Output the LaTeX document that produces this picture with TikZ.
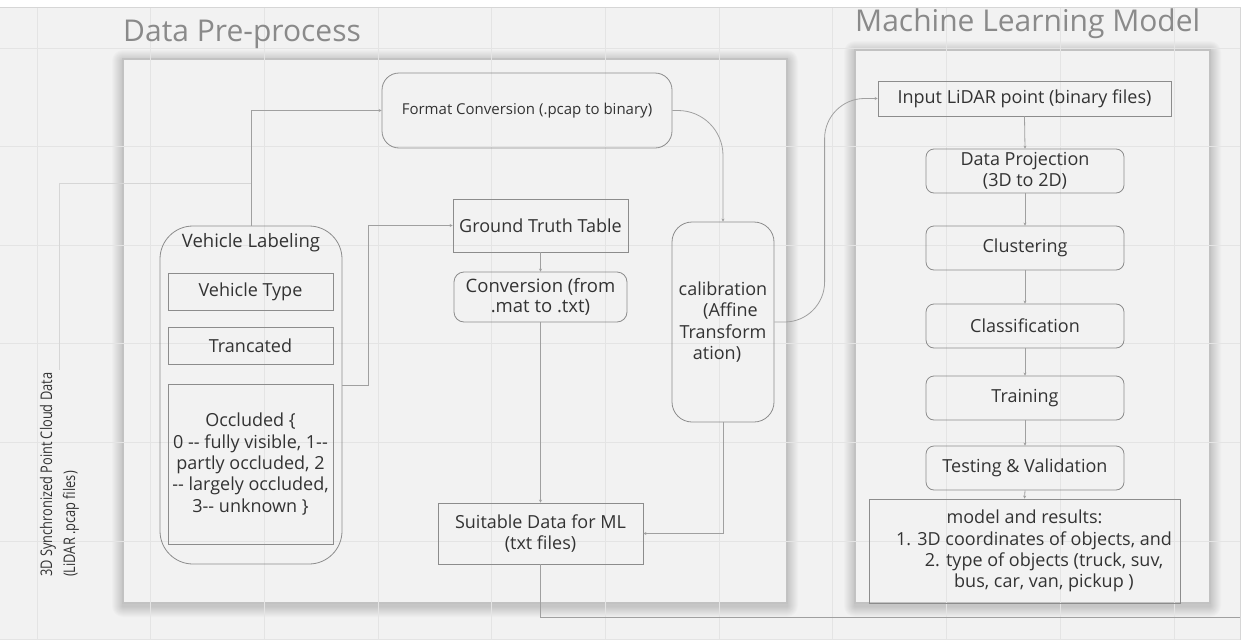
\documentclass[tikz,border=0pt]{standalone}
\usepackage{fontspec}
\setmainfont{Open Sans}
\newfontfamily\narrowfont[FakeStretch=0.8]{Open Sans}
\usetikzlibrary{arrows.meta}
\definecolor{bg}{HTML}{F2F2F2}
\definecolor{gridc}{HTML}{E4E4E4}
\definecolor{edgec}{HTML}{8C8C8C}
\definecolor{connc}{HTML}{A0A0A0}
\definecolor{faintc}{HTML}{D6D6D6}
\definecolor{txt}{HTML}{333333}
\definecolor{ttl}{HTML}{8A8A8A}
\definecolor{panelb}{HTML}{C2C2C2}
\newcommand\dd{-\kern0pt-}
\tikzset{
  box/.style={draw=edgec, line width=0.8pt, text=txt, align=center, inner sep=0pt,
    font=\fontsize{18}{21.3}\selectfont},
  mlbox/.style={box, rounded corners=8pt, minimum width=198pt, minimum height=44pt},
  conn/.style={draw=connc, line width=0.8pt, -{Stealth[length=3pt,width=3pt]}},
  plain/.style={draw=connc, line width=0.8pt},
  faint/.style={draw=faintc, line width=1pt},
  ttlstyle/.style={anchor=base west, inner sep=0pt, text=ttl, font=\fontsize{30}{36}\selectfont},
  panel/.style={fill=bg, draw=panelb, line width=1.2pt}
}
\begin{document}
\begin{tikzpicture}[x=1pt,y=-1pt]
\useasboundingbox (0,0) rectangle (1254,640);
% canvas
\fill[white] (0,0) rectangle (1254,640);
\fill[bg] (0,7) rectangle (1240,640);
\draw[faintc, line width=1pt] (0,7) -- (1240,7) -- (1240,640);
% shadows
\foreach \r in {1,...,11}{
  \fill[black, opacity=0.017, rounded corners=\r pt] ({123-\r},{61-\r}) rectangle ({787+\r},{606+\r});
  \fill[black, opacity=0.017, rounded corners=\r pt] ({855-\r},{52-\r}) rectangle ({1210+\r},{606+\r});
}
% panels
\path[panel] (123,59) rectangle (787,603);
\path[panel] (855,50) rectangle (1210,603);
% grid
\foreach \i in {0,...,10}{ \draw[gridc, line width=1pt] ({37+113.7*\i},7.5) -- ({37+113.7*\i},640); }
\foreach \j in {0,...,6}{ \draw[gridc, line width=1pt] (0,{48+98.6*\j}) -- (1239.5,{48+98.6*\j}); }
% titles
\node[ttlstyle] (t1) at (123,41) {Data Pre-process};
\node[ttlstyle] (t2) at (855,31) {Machine Learning Model};
% rotated source label
\node[rotate=90, anchor=west, inner sep=3pt, align=left, text=txt,
  font=\narrowfont\fontsize{16}{23}\selectfont] (lab) at (59.5,580)
  {3D Synchronized Point Cloud Data\\(LiDAR .pcap files)};
% pre-process nodes
\node[box, rounded corners=17pt, minimum width=290pt, minimum height=75pt,
  font=\fontsize{15}{18}\selectfont] (fc) at (527,110.5) {Format Conversion (.pcap to binary)};
\node[box, minimum width=175pt, minimum height=53pt] (gt) at (540.5,225.5) {Ground Truth Table};
\node[box, rounded corners=10pt, minimum width=173pt, minimum height=50pt,
  font=\fontsize{18.5}{20.5}\selectfont] (conv) at (540.5,297) {Conversion (from\\.mat to .txt)};
\node[box, rounded corners=20pt, minimum width=102pt, minimum height=200pt] (cal) at (723,322)
  {calibration\\\hspace*{15pt}(Affine\\Transform\\ation)\hbox to 12pt{}};
\node[box, rounded corners=33pt, minimum width=182pt, minimum height=338pt] (vl) at (251,395) {};
\node[text=txt, inner sep=0pt, font=\fontsize{18.5}{22}\selectfont] (vlt) at (251,243) {Vehicle Labeling};
\node[box, minimum width=165pt, minimum height=37pt] (vt) at (250.5,291.5) {Vehicle Type};
\node[box, minimum width=165pt, minimum height=37pt] (tr) at (250.5,345.5) {Trancated};
\node[box, minimum width=165pt, minimum height=160pt] (oc) at (250.5,464)
  {Occluded \{\\0 \dd{} fully visible, 1\dd\\partly occluded, 2\\\dd{} largely occluded,\\3\dd{} unknown \}};
\node[box, minimum width=205pt, minimum height=61pt] (sd) at (540.5,533.5) {Suitable Data for ML\\(txt files)};
% ML nodes
\node[box, minimum width=293pt, minimum height=35pt] (inp) at (1024.5,98.5) {Input LiDAR point (binary files)};
\node[mlbox] (dp) at (1025,171) {Data Projection\\(3D to 2D)};
\node[mlbox] (cl) at (1025,248) {Clustering};
\node[mlbox] (cls) at (1025,326) {Classification};
\node[mlbox] (trn) at (1025,398) {Training};
\node[mlbox] (tv) at (1025,468) {Testing \& Validation};
\node[box, minimum width=311pt, minimum height=104pt] (mr) at (1024.5,551)
  {model and results:\\\hspace*{19pt}1. 3D coordinates of objects, and\\\hspace*{39pt}2. type of objects (truck, suv,\\\hspace*{39pt}bus, car, van, pickup )};
% connectors
\coordinate (jn) at (251,183);
\coordinate (outc) at (1240,617);
\draw[faint] (lab.east) |- (jn);
\draw[conn] (vl.north) |- (fc.west);
\draw[conn] ([yshift=10pt]vl.east) -- ++(26,0) |- (gt.west);
\draw[conn] (gt.south) -- (conv.north);
\draw[conn] (conv.south) -- (sd.north);
\draw[plain] (sd.south) |- (outc);
\draw[conn, rounded corners=45pt] (fc.east) -| (cal.north);
\draw[conn, rounded corners=40pt] (cal.east) -| ([xshift=-53pt]inp.west) -- (inp.west);
\draw[conn] (cal.south) |- (sd.east);
\draw[conn] (inp.south) -- (dp.north);
\draw[conn] (dp.south) -- (cl.north);
\draw[conn] (cl.south) -- (cls.north);
\draw[conn] (cls.south) -- (trn.north);
\draw[conn] (trn.south) -- (tv.north);
\draw[conn] (tv.south) -- (mr.north);
\end{tikzpicture}
\end{document}
